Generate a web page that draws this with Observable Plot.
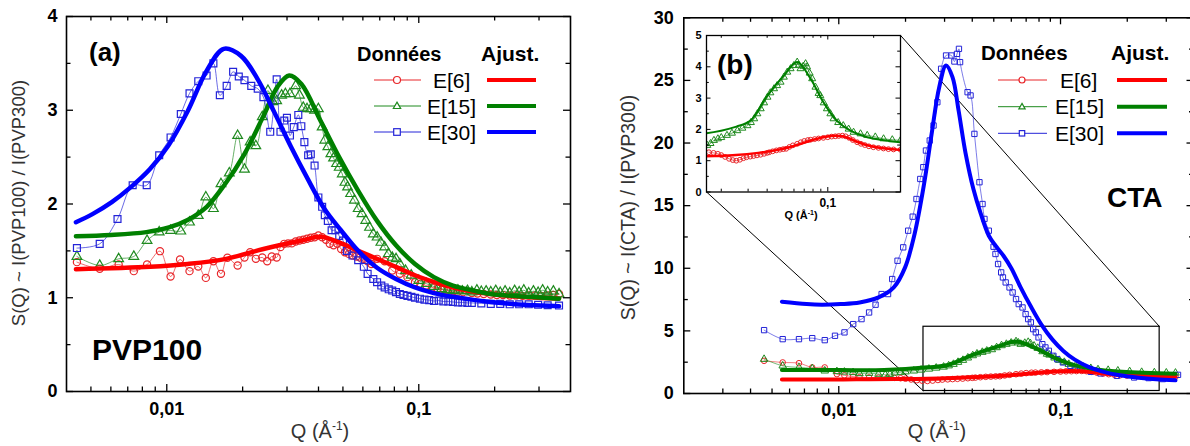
<!DOCTYPE html>
<html><head><meta charset="utf-8">
<script src="https://cdn.jsdelivr.net/npm/d3@7"></script>
<script src="https://cdn.jsdelivr.net/npm/@observablehq/plot@0.6"></script>
<style>
html,body{margin:0;padding:0;background:#fff;overflow:hidden;}
#wrap{position:relative;width:1190px;height:446px;overflow:hidden;font-family:"Liberation Sans",Arial,sans-serif;}
.pane{position:absolute;top:0;}
#overlay{position:absolute;left:0;top:0;pointer-events:none;}
</style></head><body><div id="wrap"></div>
<script>
// ---------- Panel (a) : PVP100 ----------
const qa6 = [0.0044,0.005418,0.006442,0.007398,0.008352,0.009396,0.010353,0.011289,0.012309,0.013333,0.014287,0.015311,0.016408,0.017403,0.019107,0.020336,0.021418,0.022562,0.023929,0.025032,0.026092,0.027296,0.028256,0.029256,0.030288,0.031354,0.032463,0.033604,0.034794,0.036017,0.037276,0.038593,0.039953,0.041357,0.042816,0.044326,0.045896,0.047511,0.049183,0.050924,0.052717,0.054572,0.056504,0.058491,0.060534,0.062664,0.064868,0.068325,0.07322,0.07846,0.084099,0.090161,0.096605,0.1015,0.10717,0.1128,0.11891,0.1255,0.1300,0.13656,0.1430,0.1500,0.16238,0.1710,0.1810,0.19307,0.2040,0.2160,0.22955,0.2430,0.2580,0.27296,0.2890,0.3060,0.32463,0.3420,0.36017];
const sa6 = [1.38,1.31,1.355,1.284,1.355,1.497,1.227,1.408,1.284,1.333,1.212,1.39,1.255,1.426,1.344,1.43,1.486,1.415,1.43,1.39,1.44,1.43,1.54,1.575,1.58,1.58,1.60,1.61,1.618,1.63,1.64,1.646,1.664,1.646,1.618,1.575,1.56,1.575,1.52,1.486,1.468,1.45,1.44,1.43,1.415,1.39,1.36,1.415,1.39,1.29,1.255,1.22,1.166,1.15,1.13,1.11,1.095,1.085,1.08,1.07,1.065,1.06,1.05,1.045,1.04,1.035,1.03,1.03,1.024,1.025,1.02,1.024,1.025,1.02,1.024,1.03,1.04];
const qa15 = [0.0044,0.005418,0.006442,0.007398,0.008352,0.009331,0.010353,0.011368,0.012309,0.013333,0.014287,0.015311,0.016408,0.017707,0.019107,0.020336,0.021418,0.022562,0.023929,0.025206,0.026369,0.027296,0.028551,0.029561,0.030817,0.032463,0.033604,0.034794,0.036017,0.037276,0.038593,0.039953,0.041357,0.042375,0.043565,0.044789,0.045896,0.047184,0.04834,0.049696,0.050924,0.052173,0.053636,0.055535,0.057489,0.059511,0.06159,0.063757,0.066,0.068325,0.070724,0.07322,0.075794,0.07846,0.081244,0.084099,0.088615,0.093301,0.1,0.10717,0.11487,0.1231,0.1300,0.13656,0.1430,0.14893,0.1560,0.16238,0.1700,0.17706,0.1850,0.19307,0.2020,0.21051,0.2200,0.22955,0.2400,0.2503,0.2610,0.27296,0.2850,0.29762,0.3100,0.32463,0.3420,0.36017];
const sa15 = [1.44,1.344,1.415,1.44,1.61,1.70,1.717,1.71,1.806,1.877,2.073,1.95,2.215,2.33,2.73,2.37,2.66,2.62,2.93,3.21,3.09,3.10,3.16,3.175,3.175,3.26,3.16,3.03,3.015,3.015,3.0,3.015,2.82,2.68,2.61,2.535,2.49,2.43,2.39,2.32,2.23,2.18,2.11,2.04,1.95,1.895,1.824,1.75,1.68,1.646,1.59,1.54,1.47,1.43,1.415,1.36,1.29,1.24,1.184,1.15,1.12,1.095,1.085,1.077,1.08,1.07,1.075,1.06,1.08,1.065,1.07,1.06,1.075,1.055,1.07,1.05,1.075,1.06,1.08,1.05,1.07,1.055,1.08,1.06,1.07,1.04];
const qa30 = [0.0044,0.005418,0.006375,0.007322,0.008324,0.009331,0.010353,0.011368,0.012309,0.013333,0.014386,0.015311,0.016238,0.017283,0.018332,0.019306,0.020336,0.021641,0.022955,0.024182,0.025733,0.027296,0.028256,0.029256,0.029976,0.030817,0.031906,0.033258,0.03419,0.035156,0.036392,0.037276,0.038593,0.039953,0.041357,0.042375,0.043565,0.045099,0.046697,0.04834,0.05004,0.051813,0.054572,0.057489,0.060534,0.062664,0.066,0.068325,0.0710,0.07322,0.0760,0.07846,0.0812,0.084099,0.0870,0.090161,0.0935,0.096605,0.1010,0.10534,0.1100,0.11487,0.1200,0.12524,0.1310,0.13656,0.1430,0.14893,0.1560,0.16238,0.17706,0.19307,0.21051,0.22955,0.2503,0.27296,0.29762,0.32463,0.36017];
const sa30 = [1.53,1.575,1.84,2.2,2.2,2.52,2.71,2.96,3.18,3.31,3.37,3.5,3.16,3.26,3.41,3.36,3.32,3.26,3.23,3.14,2.77,3.33,2.77,2.89,2.92,2.73,2.82,2.95,2.83,2.66,2.52,2.53,2.41,2.07,1.97,1.88,1.82,1.72,1.72,1.66,1.61,1.50,1.45,1.40,1.33,1.255,1.20,1.166,1.13,1.11,1.09,1.077,1.06,1.04,1.03,1.02,1.01,1.0,0.99,0.98,0.975,0.965,0.97,0.96,0.96,0.955,0.95,0.95,0.945,0.945,0.94,0.935,0.935,0.93,0.93,0.93,0.925,0.92,0.917];
// fits (a)
const qfa6 = [0.00436,0.0086,0.0121,0.0172,0.0242,0.0342,0.0407,0.0483,0.0575,0.0683,0.0812,0.0966,0.1148,0.1366,0.1931,0.273,0.3602];
const sfa6 = [1.305,1.33,1.36,1.415,1.52,1.61,1.65,1.59,1.50,1.415,1.33,1.24,1.17,1.11,1.04,1.006,0.99];
const qfa15 = [0.00436,0.006,0.0083,0.0102,0.0121,0.0144,0.0169,0.0203,0.0242,0.0275,0.0306,0.0342,0.0407,0.0483,0.0575,0.0683,0.0812,0.0966,0.1148,0.1366,0.1624,0.1931,0.273,0.3602];
const sfa15 = [1.657,1.67,1.70,1.75,1.83,1.97,2.2,2.53,2.94,3.25,3.37,3.28,2.89,2.5,2.14,1.82,1.56,1.36,1.22,1.13,1.08,1.04,1.01,0.99];
const qfa30 = [0.00436,0.00509,0.00605,0.0072,0.00856,0.01018,0.0121,0.01439,0.01683,0.0197,0.02296,0.0267,0.0311,0.0362,0.0422,0.0491,0.0575,0.0683,0.0812,0.0966,0.1148,0.1366,0.1624,0.1931,0.2296,0.273,0.3602];
const sfa30 = [1.806,1.895,2.02,2.18,2.37,2.63,2.99,3.42,3.655,3.58,3.33,2.98,2.61,2.27,1.95,1.72,1.50,1.32,1.20,1.11,1.05,1.01,0.98,0.955,0.935,0.922,0.91];

// ---------- Panel (b) : CTA ----------
const qb6 = [0.004604,0.005585,0.006614,0.007591,0.008644,0.009806,0.0106,0.0116,0.0124,0.0137,0.0151,0.0166,0.0178,0.0190,0.0200,0.0212,0.0225,0.0238,0.0251,0.0265,0.0280,0.0293,0.0310,0.0326,0.0343,0.0362,0.0382,0.0400,0.0413,0.0435,0.0460,0.0485,0.0510,0.0533,0.0560,0.0590,0.0630,0.0665,0.0700,0.0740,0.0771,0.0820,0.0870,0.0935,0.1000,0.1060,0.1120,0.1180,0.1247,0.1310,0.1380,0.1460,0.1558,0.1650,0.1750,0.1860,0.1991,0.2150,0.2320,0.2500,0.2700,0.3000,0.3300];
const sb6 = [2.61,2.48,2.42,2.08,2.08,1.55,1.45,1.35,1.3,1.28,1.27,1.27,1.25,1.22,1.18,1.12,1.06,1.02,1.00,1.03,1.08,1.11,1.13,1.15,1.17,1.19,1.22,1.25,1.27,1.30,1.33,1.35,1.37,1.38,1.44,1.49,1.54,1.59,1.63,1.66,1.67,1.69,1.71,1.73,1.75,1.77,1.78,1.79,1.80,1.78,1.73,1.66,1.59,1.54,1.50,1.46,1.43,1.41,1.39,1.37,1.36,1.35,1.34];
const qb15 = [0.004604,0.005585,0.006614,0.007591,0.008644,0.009806,0.0106,0.0116,0.0124,0.0137,0.0151,0.0162,0.0170,0.0179,0.0190,0.0200,0.0218,0.0235,0.0255,0.0275,0.0297,0.0313,0.0329,0.0345,0.0363,0.0382,0.0402,0.0420,0.0444,0.0465,0.0490,0.0515,0.0542,0.0570,0.0599,0.0630,0.0645,0.0662,0.0690,0.0715,0.0731,0.0760,0.0790,0.0830,0.0870,0.0893,0.0940,0.0987,0.1040,0.1090,0.1170,0.1263,0.1370,0.1476,0.1640,0.1814,0.2050,0.2323,0.2650,0.3000,0.3300];
const sb15 = [2.74,2.21,2.08,2.0,1.81,1.76,1.72,1.68,1.6,1.62,1.55,1.49,1.55,1.65,1.70,1.74,1.81,1.88,1.96,2.04,2.12,2.22,2.34,2.50,2.66,2.85,3.03,3.17,3.30,3.40,3.51,3.67,3.83,3.94,4.04,4.15,4.05,3.94,4.02,4.10,4.0,3.80,3.62,3.35,3.15,3.08,2.85,2.66,2.50,2.34,2.22,2.12,2.01,1.91,1.86,1.81,1.76,1.70,1.67,1.65,1.64];
const qb30 = [0.004604,0.005585,0.006614,0.007591,0.008644,0.009614,0.010608,0.011614,0.012664,0.0137,0.01465,0.015602,0.016682,0.017418,0.018408,0.019526,0.020552,0.021544,0.02241,0.02331,0.024057,0.024726,0.025719,0.02675,0.027833,0.028943,0.030469,0.032196,0.033226,0.034149,0.03483,0.035242,0.0381,0.0393,0.0409,0.0431,0.0445,0.0454,0.0475,0.0499,0.0509,0.0523,0.0540,0.0550,0.0566,0.0589,0.0608,0.0630,0.0648,0.0674,0.0696,0.0715,0.0735,0.0753,0.0774,0.0796,0.0828,0.0855,0.0886,0.0929,0.0966,0.1025,0.1109,0.1227,0.137,0.1515,0.1796,0.2148,0.2497,0.28943,0.33885];
const sb30 = [5.06,4.34,4.34,4.42,4.26,4.61,4.88,5.54,5.94,6.47,7.09,7.94,7.94,9.14,10.6,11.67,13.0,14.12,15.53,17.13,18.07,19.4,20.2,21.4,23.26,25.93,26.99,26.99,26.51,27.12,27.52,26.46,24.06,23.8,20.73,16.87,15.13,13.94,13.0,11.72,11.14,10.34,9.67,9.27,8.87,8.47,8.07,7.54,7.14,6.87,6.34,5.94,5.68,5.14,4.88,4.48,3.94,3.68,3.41,3.01,2.74,2.48,2.21,1.95,1.73,1.6,1.41,1.28,1.23,1.15,1.49];
// fits (b)
const qfb6 = [0.00554,0.008,0.012,0.018,0.025,0.035,0.045,0.055,0.065,0.075,0.085,0.095,0.11,0.125,0.14,0.16,0.19,0.23,0.28,0.33];
const sfb6 = [1.12,1.12,1.13,1.15,1.18,1.25,1.33,1.42,1.52,1.62,1.70,1.76,1.80,1.78,1.70,1.58,1.47,1.40,1.36,1.34];
const qfb15 = [0.00554,0.01,0.016,0.02513,0.0311,0.04015,0.05144,0.06295,0.0771,0.09354,0.1145,0.1407,0.1814,0.3,0.33];
const sfb15 = [1.87,1.87,1.88,2.09,2.28,3.08,3.72,4.15,3.62,2.87,2.28,1.96,1.75,1.59,1.58];
const qfb30 = [0.00554,0.007156,0.008379,0.010198,0.012417,0.015118,0.017698,0.019913,0.021975,0.024245,0.026229,0.028379,0.030469,0.032576,0.0347,0.0373,0.0405,0.0436,0.0475,0.0515,0.0553,0.0600,0.0660,0.0732,0.0820,0.0920,0.1030,0.1160,0.1330,0.1550,0.185,0.225,0.27,0.33];
const sfb30 = [7.33,7.14,7.09,7.14,7.27,7.67,8.47,10.07,12.74,16.73,20.73,24.46,26.19,25.26,22.6,19.2,16.3,14.4,12.6,11.7,11.0,10.0,8.5,7.0,5.5,4.3,3.4,2.7,2.15,1.75,1.45,1.25,1.13,1.05];

// zoom box (main panel b) and inset connectors, in data units
const zoomBox = [{q1: 0.0241, q2: 0.28, s1: 0.2, s2: 5.33}];
const zoomLinks = [{q1: 0.0241, s1: 0.2, q2: 0.00253, s2: 16.1}, {q1: 0.28, s1: 5.33, q2: 0.01898, s2: 28.6}];

// tick values
const xMajA = [0.01, 0.1];
const xMinA = [0.005,0.006,0.007,0.008,0.009,0.02,0.03,0.04,0.05,0.06,0.07,0.08,0.09,0.2,0.3];
const yMajA = [0,1,2,3,4];
const yMinA = [0.5,1.5,2.5,3.5];
const xMajB = [0.01, 0.1];
const xMinB = [0.003,0.004,0.005,0.006,0.007,0.008,0.009,0.02,0.03,0.04,0.05,0.06,0.07,0.08,0.09,0.2,0.3];
const yMajB = [0,5,10,15,20,25,30];
const yMinB = [2.5,7.5,12.5,17.5,22.5,27.5];
const xMajI = [0.1];
const xMinI = [0.02,0.03,0.04,0.05,0.06,0.07,0.08,0.09,0.2];
const yMajI = [0,1,2,3,4,5];
const yMinI = [0.5,1.5,2.5,3.5,4.5];

const C = {
  r: "#ff0000", g: "#008000", b: "#0000ff",
  rd: "#e8262a", gd: "#1f8a1f", bd: "#2424d8"
};
const rows = (q, s) => q.map((x, i) => ({q: x, s: s[i]})).filter(d => d.s != null);
const fmt = d => String(d).replace(".", ",");
const FONT = "Liberation Sans, Arial, sans-serif";

function boxTicks(xMaj, xMin, yMaj, yMin, W, H, lMaj, lMin, sw) {
  const m = [];
  for (const [v, l] of [[xMaj, lMaj], [xMin, lMin]]) {
    m.push(Plot.tickX(v, {x: d => d, insetTop: H - l, stroke: "#000", strokeWidth: sw}));
    m.push(Plot.tickX(v, {x: d => d, insetBottom: H - l, stroke: "#000", strokeWidth: sw}));
  }
  for (const [v, l] of [[yMaj, lMaj], [yMin, lMin]]) {
    m.push(Plot.tickY(v, {y: d => d, insetRight: W - l, stroke: "#000", strokeWidth: sw}));
    m.push(Plot.tickY(v, {y: d => d, insetLeft: W - l, stroke: "#000", strokeWidth: sw}));
  }
  return m;
}

function series(data, sym, r, col, lw, sw, fill) {
  return [
    Plot.line(data, {x: "q", y: "s", stroke: col, strokeWidth: lw, curve: "catmull-rom", strokeOpacity: 0.85}),
    Plot.dot(data, {x: "q", y: "s", symbol: sym, r, stroke: col, strokeWidth: sw, fill: fill})
  ];
}
function fit(data, col, w) {
  return Plot.line(data, {x: "q", y: "s", stroke: col, strokeWidth: w, curve: "catmull-rom", strokeLinecap: "round"});
}

const wrap = document.getElementById("wrap");
function place(el, left, top, w) {
  const d = document.createElement("div");
  d.className = "pane"; d.style.left = left + "px"; d.style.top = top + "px"; d.style.width = w + "px";
  d.appendChild(el); wrap.appendChild(d);
}

// ----- panel a -----
const A = {ml: 66, mr: 20, mt: 16, mb: 55, w: 590, h: 446};
const plotA = Plot.plot({
  width: A.w, height: A.h, marginLeft: A.ml, marginRight: A.mr, marginTop: A.mt, marginBottom: A.mb,
  style: {fontFamily: FONT, color: "#000", background: "transparent"},
  x: {type: "log", domain: [0.004, 0.4]},
  y: {domain: [0, 4]},
  marks: [
    ...series(rows(qa6, sa6), "circle", 3.6, C.rd, 0.8, 1.2, "none"),
    ...series(rows(qa15, sa15), "triangle", 3.6, C.gd, 0.8, 1.2, "none"),
    ...series(rows(qa30, sa30), "square", 3.9, C.bd, 0.8, 1.2, "none"),
    fit(rows(qfa6, sfa6), C.r, 4.5),
    fit(rows(qfa15, sfa15), C.g, 4.5),
    fit(rows(qfa30, sfa30), C.b, 4.5),
    ...boxTicks(xMajA, xMinA, yMajA, yMinA, A.w - A.ml - A.mr, A.h - A.mt - A.mb, 7, 4.5, 1.3),
    Plot.axisX({ticks: xMajA, tickSize: 0, tickPadding: 11, tickFormat: fmt, fontSize: 18, fontWeight: "bold", label: null}),
    Plot.axisY({ticks: yMajA, tickSize: 0, tickPadding: 9, tickFormat: d => String(d), fontSize: 18, fontWeight: "bold", label: null}),
    Plot.frame({stroke: "#000", strokeWidth: 1.6})
  ]
});
place(plotA, 0, 0, A.w);

// ----- panel b -----
const B = {ml: 93.3, mr: 6.5, mt: 17.3, mb: 53, w: 610, h: 446};
const plotB = Plot.plot({
  width: B.w, height: B.h, marginLeft: B.ml, marginRight: B.mr, marginTop: B.mt, marginBottom: B.mb,
  style: {fontFamily: FONT, color: "#000", background: "transparent"},
  x: {type: "log", domain: [0.002, 0.4]},
  y: {domain: [0, 30]},
  marks: [
    Plot.rect(zoomBox, {x1: "q1", x2: "q2", y1: "s1", y2: "s2", stroke: "#000", fill: "none", strokeWidth: 1.2}),
    Plot.link(zoomLinks, {x1: "q1", y1: "s1", x2: "q2", y2: "s2", stroke: "#000", strokeWidth: 1}),
    ...series(rows(qb6, sb6), "circle", 2.8, C.rd, 0.7, 1, "none"),
    ...series(rows(qb15, sb15), "triangle", 2.8, C.gd, 0.7, 1, "none"),
    ...series(rows(qb30, sb30), "square", 3.0, C.bd, 0.7, 1, "none"),
    fit(rows(qfb6, sfb6), C.r, 4),
    fit(rows(qfb15, sfb15), C.g, 4),
    fit(rows(qfb30, sfb30), C.b, 4),
    ...boxTicks(xMajB, xMinB, yMajB, yMinB, B.w - B.ml - B.mr, B.h - B.mt - B.mb, 7, 4.5, 1.3),
    Plot.axisX({ticks: xMajB, tickSize: 0, tickPadding: 10, tickFormat: fmt, fontSize: 18, fontWeight: "bold", label: null}),
    Plot.axisY({ticks: yMajB, tickSize: 0, tickPadding: 10, tickFormat: d => String(d), fontSize: 18, fontWeight: "bold", label: null}),
    Plot.frame({stroke: "#000", strokeWidth: 1.6})
  ]
});
place(plotB, 590, 0, B.w);

// ----- inset -----
const I = {ml: 26, mr: 10, mt: 7, mb: 36.5, w: 230, h: 200};
const insetData6 = rows(qb6, sb6).filter(d => d.q >= 0.016);
const insetData15 = rows(qb15, sb15).filter(d => d.q >= 0.016);
const plotI = Plot.plot({
  width: I.w, height: I.h, marginLeft: I.ml, marginRight: I.mr, marginTop: I.mt, marginBottom: I.mb,
  style: {fontFamily: FONT, color: "#000", background: "transparent"},
  x: {type: "log", domain: [0.016, 0.3]},
  y: {domain: [0, 5]},
  marks: [
    Plot.frame({fill: "#fff", stroke: "none"}),
    Plot.line(insetData6, {x: "q", y: "s", stroke: C.rd, strokeWidth: 0.7, curve: "catmull-rom", clip: true}),
    Plot.dot(insetData6, {x: "q", y: "s", symbol: "circle", r: 2.4, stroke: C.rd, strokeWidth: 1, fill: "none", clip: true}),
    Plot.line(insetData15, {x: "q", y: "s", stroke: C.gd, strokeWidth: 0.7, curve: "catmull-rom", clip: true}),
    Plot.dot(insetData15, {x: "q", y: "s", symbol: "triangle", r: 2.6, stroke: C.gd, strokeWidth: 1, fill: "none", clip: true}),
    Plot.line(rows(qfb6, sfb6), {x: "q", y: "s", stroke: C.r, strokeWidth: 2.5, curve: "catmull-rom", clip: true}),
    Plot.line(rows(qfb15, sfb15), {x: "q", y: "s", stroke: C.g, strokeWidth: 2, curve: "catmull-rom", clip: true}),
    ...boxTicks(xMajI, xMinI, yMajI, yMinI, I.w - I.ml - I.mr, I.h - I.mt - I.mb, 4.5, 2.8, 1),
    Plot.axisX({ticks: xMajI, tickSize: 0, tickPadding: 6, tickFormat: fmt, fontSize: 12, fontWeight: "bold", label: null}),
    Plot.axisY({ticks: yMajI, tickSize: 0, tickPadding: 5, tickFormat: d => String(d), fontSize: 11, fontWeight: "bold", label: null}),
    Plot.frame({stroke: "#000", strokeWidth: 1.3})
  ]
});
place(plotI, 680, 28, I.w);

// ----- overlay: legends, annotations, axis titles -----
const tri = (cx, cy, s) => `M${cx},${cy - s} L${cx + s * 0.95},${cy + s * 0.65} L${cx - s * 0.95},${cy + s * 0.65} Z`;
const legRow = (x1, x2, xm, y, col, fcol, sym, ms, lx, label, fx1, fx2, fs) => {
  let m = "";
  if (sym === "c") m = `<circle cx="${xm}" cy="${y}" r="${ms}" fill="#fff" stroke="${col}" stroke-width="1.2"/>`;
  if (sym === "t") m = `<path d="${tri(xm, y, ms * 1.1)}" fill="#fff" stroke="${col}" stroke-width="1.2"/>`;
  if (sym === "s") m = `<rect x="${xm - ms}" y="${y - ms}" width="${2 * ms}" height="${2 * ms}" fill="#fff" stroke="${col}" stroke-width="1.2"/>`;
  return `<line x1="${x1}" x2="${x2}" y1="${y}" y2="${y}" stroke="${col}" stroke-width="1"/>${m}
  <text x="${lx}" y="${y + 7.5}" font-size="${fs}">${label}</text>
  <line x1="${fx1}" x2="${fx2}" y1="${y}" y2="${y}" stroke="${fcol}" stroke-width="4"/>`;
};
const ov = `<svg id="overlay" width="1190" height="446" font-family="${FONT}" fill="#000">
  <text x="357" y="61" font-size="20" font-weight="bold">Données</text>
  <text x="481" y="61" font-size="21" font-weight="bold">Ajust.</text>
  ${legRow(374, 421, 397, 80, C.rd, C.r, "c", 3.5, 433, "E[6]", 487, 536, 21)}
  ${legRow(374, 421, 397, 106, C.gd, C.g, "t", 3.5, 427, "E[15]", 487, 536, 21)}
  ${legRow(374, 421, 397, 132, C.bd, C.b, "s", 3.3, 427, "E[30]", 487, 536, 21)}
  <text x="981" y="60" font-size="20.5" font-weight="bold">Données</text>
  <text x="1111" y="60" font-size="21" font-weight="bold">Ajust.</text>
  ${legRow(998, 1047, 1022, 80, C.rd, C.r, "c", 3, 1060, "E[6]", 1117, 1167, 21)}
  ${legRow(998, 1047, 1022, 106.7, C.gd, C.g, "t", 3, 1055, "E[15]", 1117, 1167, 21)}
  ${legRow(998, 1047, 1022, 133.3, C.bd, C.b, "s", 2.7, 1055, "E[30]", 1117, 1167, 21)}
  <text x="89" y="61" font-size="26" font-weight="bold">(a)</text>
  <text x="92" y="360" font-size="30" font-weight="bold">PVP100</text>
  <text x="717" y="74" font-size="28" font-weight="bold">(b)</text>
  <text x="1107" y="207" font-size="28" font-weight="bold">CTA</text>
  <text transform="translate(25,203) rotate(-90)" text-anchor="middle" font-size="18.5" fill="#333">S(Q) ~ I(PVP100) / I(PVP300)</text>
  <text transform="translate(635,207.5) rotate(-90)" text-anchor="middle" font-size="19.5" fill="#333">S(Q) ~ I(CTA) / I(PVP300)</text>
  <text x="320" y="438" text-anchor="middle" font-size="20" fill="#333">Q (Å<tspan dy="-8" font-size="12">-1</tspan><tspan dy="8">)</tspan></text>
  <text x="937" y="438" text-anchor="middle" font-size="20" fill="#333">Q (Å<tspan dy="-8" font-size="12">-1</tspan><tspan dy="8">)</tspan></text>
  <text x="801" y="219" text-anchor="middle" font-size="11" font-weight="bold">Q (Å<tspan dy="-4" font-size="7">-1</tspan><tspan dy="4">)</tspan></text>
</svg>`;
wrap.insertAdjacentHTML("beforeend", ov);
</script>
</body></html>
